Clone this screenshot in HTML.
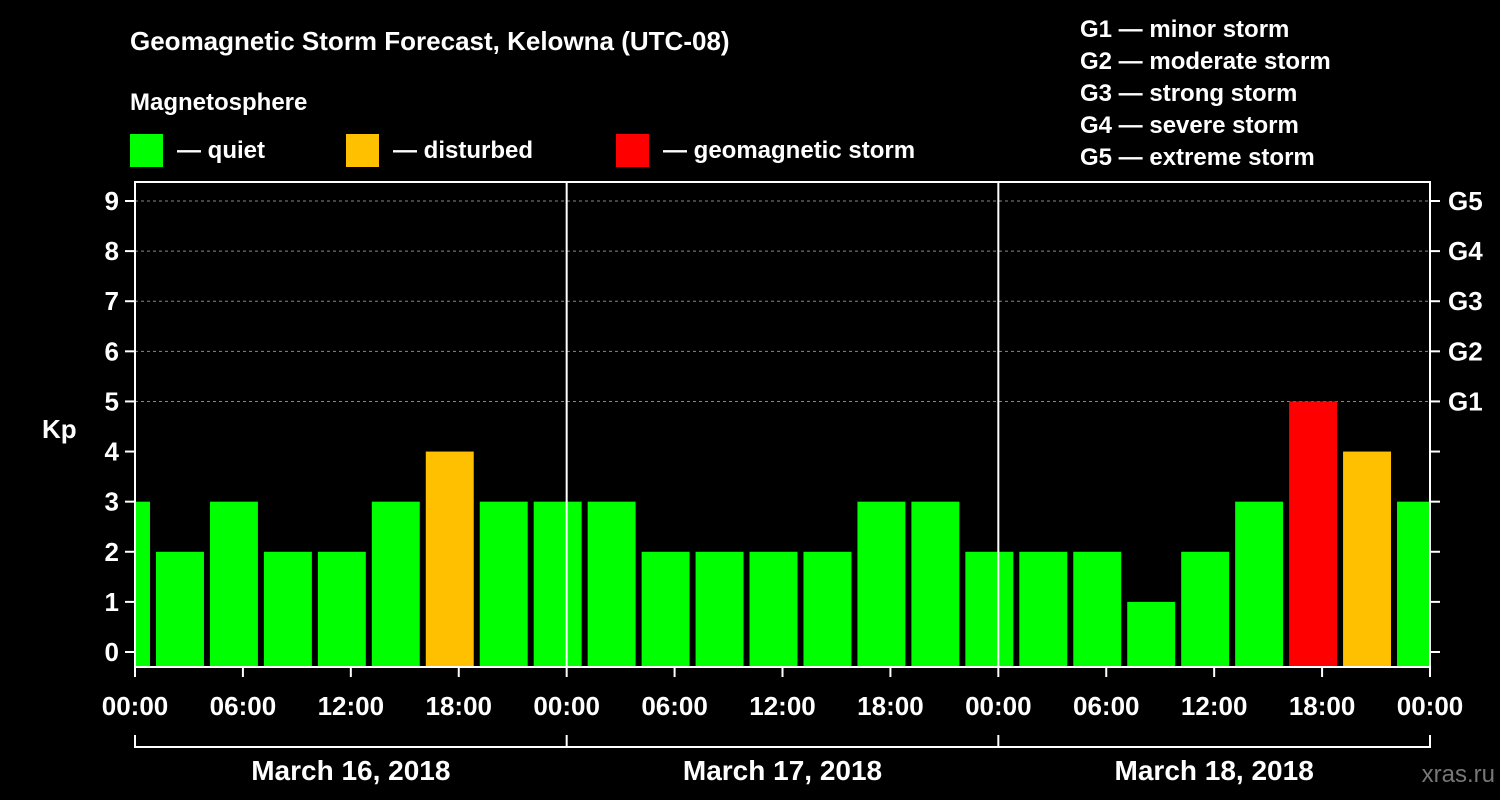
<!DOCTYPE html>
<html><head><meta charset="utf-8"><style>
body{margin:0;background:#000;}
svg{display:block;font-family:"Liberation Sans",Arial,sans-serif;font-weight:bold;}
</style></head><body>
<svg id="c" width="1500" height="800" viewBox="0 0 1500 800">
<rect width="1500" height="800" fill="#000"/>
<text x="130" y="50" fill="#fff" font-size="26">Geomagnetic Storm Forecast, Kelowna (UTC-08)</text>
<text x="130" y="110" fill="#fff" font-size="24">Magnetosphere</text>
<rect x="130" y="134" width="33" height="33" fill="#00ff00"/>
<text x="177" y="158" fill="#fff" font-size="24">— quiet</text>
<rect x="346" y="134" width="33" height="33" fill="#ffc000"/>
<text x="393" y="158" fill="#fff" font-size="24">— disturbed</text>
<rect x="616" y="134" width="33" height="33" fill="#ff0000"/>
<text x="663" y="158" fill="#fff" font-size="24">— geomagnetic storm</text>
<g fill="#fff" font-size="24">
<text x="1080" y="37">G1 — minor storm</text>
<text x="1080" y="69">G2 — moderate storm</text>
<text x="1080" y="101">G3 — strong storm</text>
<text x="1080" y="133">G4 — severe storm</text>
<text x="1080" y="165">G5 — extreme storm</text>
</g>
<text x="42" y="438" fill="#fff" font-size="26">Kp</text>
<text x="1495" y="782" fill="#777" font-size="24" text-anchor="end" font-weight="normal">xras.ru</text>
<g id="plot"></g>
</svg>
<script>
const kpValues=[3,2,3,2,2,3,4,3,3,3,2,2,2,2,3,3,2,2,2,1,2,3,5,4,3];
const barHours=[-0.5,2.5,5.5,8.5,11.5,14.5,17.5,20.5,23.5,26.5,29.5,32.5,35.5,38.5,41.5,44.5,47.5,50.5,53.5,56.5,59.5,62.5,65.5,68.5,71.5];
const xTickLabels=["00:00","06:00","12:00","18:00","00:00","06:00","12:00","18:00","00:00","06:00","12:00","18:00","00:00"];
const dayLabels=["March 16, 2018","March 17, 2018","March 18, 2018"];
const yTicks=[0,1,2,3,4,5,6,7,8,9];
const gLabels=["G1","G2","G3","G4","G5"];
const L=135,R=1430,T=182,B=667;
const x=h=>L+h*(R-L)/72;
const y=v=>652-v*(652-201)/9;
const NS="http://www.w3.org/2000/svg";
const g=document.getElementById('plot');
function mk(t,a){const e=document.createElementNS(NS,t);for(const k in a)e.setAttribute(k,a[k]);g.appendChild(e);return e;}
// gridlines
for(const v of yTicks){if(v>=5){const l=mk('line',{x1:L,x2:R,y1:y(v),y2:y(v),stroke:'#888','stroke-dasharray':'3,3','stroke-width':1});

}}
// bars
const clip=mk('clipPath',{id:'pc'});const cr=document.createElementNS(NS,'rect');cr.setAttribute('x',L);cr.setAttribute('y',T);cr.setAttribute('width',R-L);cr.setAttribute('height',B-T);clip.appendChild(cr);
kpValues.forEach((v,i)=>{const c=v>=5?'#ff0000':v>=4?'#ffc000':'#00ff00';const w=(R-L)/72*3-6;
const r=mk('rect',{x:x(barHours[i])-w/2,y:y(v),width:w,height:B-y(v),fill:c,'clip-path':'url(#pc)'});

});
// day separators
for(const d of [1,2]){const l=mk('line',{x1:x(d*24),x2:x(d*24),y1:T,y2:B,stroke:'#fff','stroke-width':2});

}
// frame
const f=mk('rect',{x:L,y:T,width:R-L,height:B-T,fill:'none',stroke:'#fff','stroke-width':2});


// y ticks
yTicks.forEach(v=>{mk('line',{x1:L-10,x2:L,y1:y(v),y2:y(v),stroke:'#fff','stroke-width':2});
mk('line',{x1:R,x2:R+10,y1:y(v),y2:y(v),stroke:'#fff','stroke-width':2});
const t=mk('text',{x:L-16,y:y(v)+9,fill:'#fff','font-size':26,'text-anchor':'end'});t.textContent=v;


if(v>=5){const s=mk('text',{x:R+18,y:y(v)+9,fill:'#fff','font-size':26});s.textContent=gLabels[v-5];

}});
// x ticks
xTickLabels.forEach((lab,i)=>{const xx=x(i*6);mk('line',{x1:xx,x2:xx,y1:B,y2:B+10,stroke:'#fff','stroke-width':2});
const t=mk('text',{x:xx,y:715,fill:'#fff','font-size':26,'text-anchor':'middle'});t.textContent=lab;

});
// date bracket
mk('line',{x1:L,x2:R,y1:747,y2:747,stroke:'#fff','stroke-width':2});
for(let d=0;d<=3;d++)mk('line',{x1:x(d*24),x2:x(d*24),y1:735,y2:748,stroke:'#fff','stroke-width':2});
dayLabels.forEach((lab,i)=>{const t=mk('text',{x:x(i*24+12),y:780,fill:'#fff','font-size':28,'text-anchor':'middle'});t.textContent=lab;

});
</script>
</body></html>
